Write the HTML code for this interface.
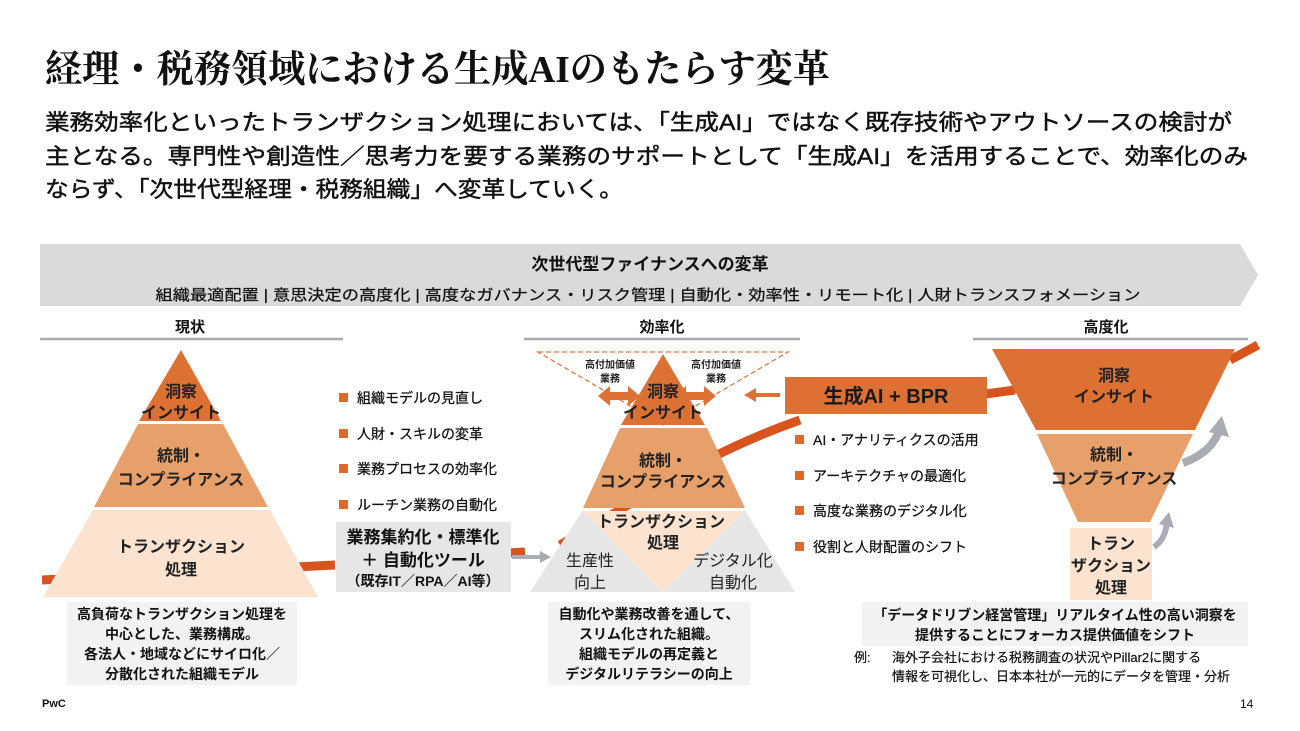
<!DOCTYPE html>
<html><head><meta charset="utf-8"><style>
html,body{margin:0;padding:0;background:#fff;}
svg{display:block;}
text{font-family:"Liberation Sans","Noto Sans CJK JP",sans-serif;}
.b{font-weight:bold;}
</style></head><body>
<svg width="1300" height="731" viewBox="0 0 1300 731" xmlns="http://www.w3.org/2000/svg">
<!-- Title -->
<text x="45" y="82" font-size="38" style="font-family:'Liberation Serif','Noto Serif CJK SC',serif" font-weight="bold" textLength="785" lengthAdjust="spacingAndGlyphs" fill="#111">経理・税務領域における生成AIのもたらす変革</text>
<g font-size="22" fill="#111" stroke="#111" stroke-width="0.45">
<text x="45" y="130" textLength="1187" lengthAdjust="spacingAndGlyphs">業務効率化といったトランザクション処理においては、「生成AI」ではなく既存技術やアウトソースの検討が</text>
<text x="45" y="164" textLength="1203" lengthAdjust="spacingAndGlyphs">主となる。専門性や創造性／思考力を要する業務のサポートとして「生成AI」を活用することで、効率化のみ</text>
<text x="45" y="197" textLength="578" lengthAdjust="spacingAndGlyphs">ならず、「次世代型経理・税務組織」へ変革していく。</text>
</g>
<!-- Gray band arrow -->
<polygon points="40,244 1240,244 1258,275 1240,306 40,306" fill="#d9dadc"/>
<text x="650" y="270" font-size="17" class="b" text-anchor="middle" fill="#111">次世代型ファイナンスへの変革</text>
<text x="648" y="300" font-size="15" text-anchor="middle" fill="#111" stroke="#111" stroke-width="0.25" textLength="985" lengthAdjust="spacingAndGlyphs">組織最適配置 | 意思決定の高度化 | 高度なガバナンス・リスク管理 | 自動化・効率性・リモート化 | 人財トランスフォメーション</text>
<!-- headers -->
<g font-size="15" class="b" text-anchor="middle" fill="#111">
<text x="190" y="332">現状</text>
<text x="662" y="332">効率化</text>
<text x="1106" y="332">高度化</text>
</g>
<g stroke="#a9acb2" stroke-width="2.5">
<line x1="40" y1="339" x2="343" y2="339"/>
<line x1="524" y1="339" x2="800" y2="339"/>
<line x1="973" y1="339" x2="1248" y2="339"/>
</g>
<!-- orange flow line -->
<path d="M42,580 L335,565" stroke="#d9531e" stroke-width="9" fill="none"/>
<path d="M505,553 L525,552" stroke="#d9531e" stroke-width="9" fill="none"/>
<path d="M560,545 C640,500 700,455 800,420" stroke="#d9531e" stroke-width="9" fill="none"/>
<path d="M985,394 L1015,390" stroke="#d9531e" stroke-width="9" fill="none"/>
<path d="M1230,360 L1258,345" stroke="#d9531e" stroke-width="9" fill="none"/>
<!-- Left pyramid -->
<polygon points="181,350 221,421 139,421" fill="#dd7033"/>
<polygon points="138,424 223,424 268,507 94,507" fill="#e8a06a"/>
<polygon points="93,510 270,510 318,597 43,597" fill="#fbe3cf"/>
<g font-size="16" class="b" text-anchor="middle" fill="#222">
<text x="181" y="397">洞察</text><text x="181" y="418">インサイト</text>
<text x="181" y="461">統制・</text><text x="181" y="485">コンプライアンス</text>
<text x="181" y="552">トランザクション</text><text x="181" y="575">処理</text>
</g>
<rect x="67" y="602" width="230" height="83" fill="#f2f2f3"/>
<g font-size="14" class="b" text-anchor="middle" fill="#111">
<text x="182" y="619">高負荷なトランザクション処理を</text>
<text x="182" y="639">中心とした、業務構成。</text>
<text x="182" y="659">各法人・地域などにサイロ化／</text>
<text x="182" y="679">分散化された組織モデル</text>
</g>
<!-- middle-left bullets -->
<g fill="#dd6a2a"><rect x="339" y="393" width="9" height="9"/><rect x="339" y="429" width="9" height="9"/><rect x="339" y="464" width="9" height="9"/><rect x="339" y="500" width="9" height="9"/></g>
<g font-size="14" fill="#111" stroke="#111" stroke-width="0.25">
<text x="357" y="403">組織モデルの見直し</text>
<text x="357" y="439">人財・スキルの変革</text>
<text x="357" y="474">業務プロセスの効率化</text>
<text x="357" y="510">ルーチン業務の自動化</text>
</g>
<rect x="336" y="522" width="175" height="70" fill="#e6e6e7"/>
<g class="b" text-anchor="middle" fill="#111">
<text x="423" y="543" font-size="17">業務集約化・標準化</text>
<text x="423" y="566" font-size="17">＋ 自動化ツール</text>
<text x="423" y="586" font-size="14">（既存IT／RPA／AI等）</text>
</g>
<!-- gray arrow -->
<path d="M512,557 L543,557" stroke="#a9acb2" stroke-width="4"/>
<polygon points="540,551 551,557 540,563" fill="#a9acb2"/>
<!-- middle pyramid -->
<polygon points="538,352 788,352 663,425" fill="none" stroke="#e07b45" stroke-width="1.3" stroke-dasharray="5,3"/>
<polygon points="530,592 583,510 663,592" fill="#e6e6e7"/>
<polygon points="795,592 745,510 663,592" fill="#e6e6e7"/>
<polygon points="663,354 705,425 621,425" fill="#dd7033"/>
<polygon points="620,428 707,428 745,508 583,508" fill="#e8a06a"/>
<polygon points="583,511 745,511 663,592" fill="#fbe3cf"/>
<!-- double arrows -->
<polygon points="610,392 628,392 628,386 640,396 628,406 628,400 610,400 610,406 598,396 610,386" fill="#dd7033"/>
<polygon points="686,392 704,392 704,386 716,396 704,406 704,400 686,400 686,406 674,396 686,386" fill="#dd7033"/>
<g font-size="10" class="b" text-anchor="middle" fill="#222">
<text x="610" y="368">高付加価値</text><text x="610" y="382">業務</text>
<text x="716" y="368">高付加価値</text><text x="716" y="382">業務</text>
</g>
<g font-size="16" class="b" text-anchor="middle" fill="#222">
<text x="663" y="397">洞察</text><text x="663" y="418">インサイト</text>
<text x="663" y="466">統制・</text><text x="663" y="487">コンプライアンス</text>
<text x="661" y="527">トランザクション</text><text x="663" y="548">処理</text>
<text x="590" y="566" font-weight="normal">生産性</text><text x="590" y="588" font-weight="normal">向上</text>
<text x="733" y="566" font-weight="normal">デジタル化</text><text x="733" y="588" font-weight="normal">自動化</text>
</g>
<rect x="548" y="602" width="202" height="83" fill="#f2f2f3"/>
<g font-size="14" class="b" text-anchor="middle" fill="#111">
<text x="649" y="619">自動化や業務改善を通して、</text>
<text x="649" y="639">スリム化された組織。</text>
<text x="649" y="659">組織モデルの再定義と</text>
<text x="649" y="679">デジタルリテラシーの向上</text>
</g>
<!-- BPR -->
<path d="M780,395 L752,395" stroke="#dd7033" stroke-width="4"/>
<polygon points="756,388 744,395 756,402" fill="#dd7033"/>
<rect x="785" y="377" width="202" height="37" fill="#dd7033"/>
<text x="886" y="403" font-size="20" class="b" text-anchor="middle" fill="#1a1a1a">生成AI + BPR</text>
<g fill="#dd6a2a"><rect x="795" y="435" width="9" height="9"/><rect x="795" y="471" width="9" height="9"/><rect x="795" y="506" width="9" height="9"/><rect x="795" y="542" width="9" height="9"/></g>
<g font-size="14" fill="#111" stroke="#111" stroke-width="0.25">
<text x="813" y="445">AI・アナリティクスの活用</text>
<text x="813" y="481">アーキテクチャの最適化</text>
<text x="813" y="516">高度な業務のデジタル化</text>
<text x="813" y="552">役割と人財配置のシフト</text>
</g>
<!-- funnel -->
<polygon points="992,349 1235,349 1195,430 1036,430" fill="#dd7033"/>
<polygon points="1037,434 1193,434 1150,522 1078,522" fill="#e8a06a"/>
<rect x="1070" y="528" width="82" height="72" fill="#fbe3cf"/>
<g font-size="16" class="b" text-anchor="middle" fill="#222">
<text x="1114" y="381">洞察</text><text x="1114" y="402">インサイト</text>
<text x="1114" y="460">統制・</text><text x="1114" y="484">コンプライアンス</text>
<text x="1111" y="549">トラン</text><text x="1111" y="571">ザクション</text><text x="1111" y="593">処理</text>
</g>
<!-- gray curved arrows -->
<path d="M1183,463 C1205,455 1216,442 1220,428" stroke="#a9acb2" stroke-width="8" fill="none"/>
<polygon points="1209,432 1222,416 1229,437" fill="#a9acb2"/>
<path d="M1154,547 C1163,541 1166,532 1167,522" stroke="#a9acb2" stroke-width="6" fill="none"/>
<polygon points="1159,524 1169,512 1174,528" fill="#a9acb2"/>
<rect x="862" y="602" width="386" height="44" fill="#f2f2f3"/>
<g font-size="14" class="b" text-anchor="middle" fill="#111">
<text x="1055" y="620">「データドリブン経営管理」リアルタイム性の高い洞察を</text>
<text x="1055" y="640">提供することにフォーカス提供価値をシフト</text>
</g>
<g font-size="13" fill="#111" stroke="#111" stroke-width="0.2">
<text x="854" y="662">例:</text>
<text x="892" y="662">海外子会社における税務調査の状況やPillar2に関する</text>
<text x="892" y="681">情報を可視化し、日本本社が一元的にデータを管理・分析</text>
</g>
<text x="42" y="707" font-size="11" class="b" fill="#111">PwC</text>
<text x="1240" y="708" font-size="12" fill="#111">14</text>
</svg>
</body></html>
